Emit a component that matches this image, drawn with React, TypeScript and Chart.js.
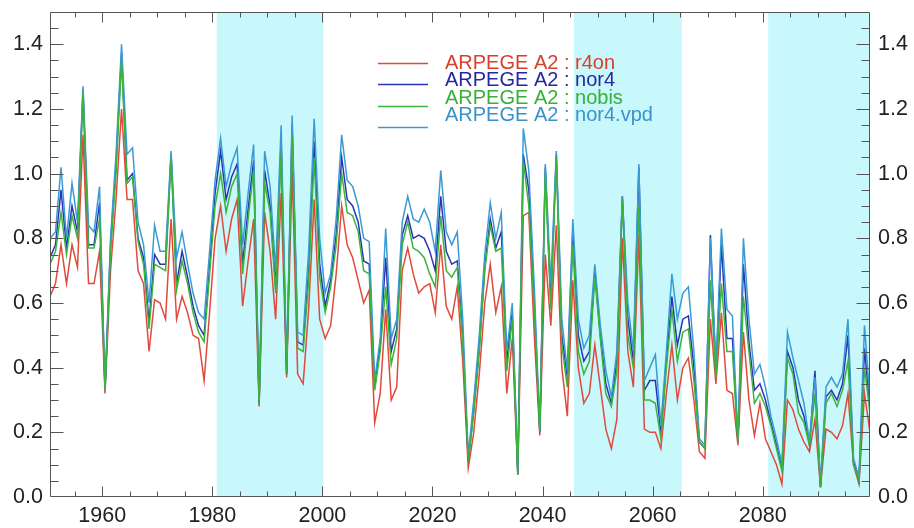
import React, { useEffect, useRef } from 'react';
import { Chart, registerables } from 'chart.js';

Chart.register(...registerables);

// ---------- data ----------
const FIRST_YEAR = 1950.5; // first sample (mid-year), one sample per year
const X_MIN = 1950.5;
const X_MAX = 2099.5;
const Y_MIN = 0;
const Y_MAX = 1.5;

const xLabelYears = [1960, 1980, 2000, 2020, 2040, 2060, 2080];
const yTickValues = [0, 0.2, 0.4, 0.6, 0.8, 1.0, 1.2, 1.4];
const shadedPeriods = [
  [1980.8, 2000.2],
  [2045.7, 2065.3],
  [2081.0, 2099.5],
];

const seriesNames = [
  'ARPEGE A2 : r4on',
  'ARPEGE A2 : nor4',
  'ARPEGE A2 : nobis',
  'ARPEGE A2 : nor4.vpd',
];

const r4on = [
  0.62, 0.66, 0.78, 0.66, 0.78, 0.71, 1.12, 0.66, 0.66, 0.76,
  0.32, 0.70, 0.92, 1.20, 0.92, 0.92, 0.70, 0.66, 0.45, 0.61,
  0.60, 0.55, 0.86, 0.55, 0.62, 0.57, 0.50, 0.49, 0.36, 0.57,
  0.80, 0.90, 0.76, 0.86, 0.92, 0.59, 0.73, 0.86, 0.28, 0.88,
  0.76, 0.55, 0.94, 0.37, 1.01, 0.38, 0.35, 0.58, 0.92, 0.55,
  0.49, 0.53, 0.69, 0.90, 0.78, 0.74, 0.67, 0.60, 0.64, 0.23,
  0.32, 0.58, 0.30, 0.34, 0.70, 0.77, 0.69, 0.63, 0.65, 0.66,
  0.57, 0.78, 0.59, 0.55, 0.65, 0.42, 0.09, 0.20, 0.38, 0.60,
  0.72, 0.57, 0.65, 0.32, 0.49, 0.07, 0.87, 0.88, 0.50, 0.19,
  0.75, 0.53, 0.84, 0.40, 0.25, 0.67, 0.40, 0.29, 0.32, 0.47,
  0.34, 0.21, 0.15, 0.24, 0.80, 0.45, 0.34, 0.81, 0.21, 0.20,
  0.20, 0.15, 0.32, 0.47, 0.30, 0.40, 0.43, 0.30, 0.14, 0.12,
  0.55, 0.35, 0.57, 0.33, 0.32, 0.16, 0.51, 0.30, 0.19, 0.29,
  0.18, 0.14, 0.10, 0.04, 0.30, 0.27, 0.21, 0.17, 0.14, 0.24,
  0.03, 0.21, 0.20, 0.18, 0.22, 0.32, 0.10, 0.04, 0.32, 0.20,
];

const nor4 = [
  0.74, 0.78, 0.95, 0.77, 0.90, 0.82, 1.26, 0.78, 0.78, 0.91,
  0.33, 0.78, 1.03, 1.37, 0.98, 1.00, 0.80, 0.74, 0.54, 0.75,
  0.72, 0.72, 1.06, 0.66, 0.76, 0.68, 0.59, 0.53, 0.50, 0.71,
  0.94, 1.07, 0.92, 0.99, 1.03, 0.72, 0.89, 1.04, 0.29, 1.01,
  0.90, 0.65, 1.10, 0.38, 1.15, 0.48, 0.47, 0.70, 1.10, 0.72,
  0.59, 0.67, 0.81, 1.05, 0.92, 0.90, 0.85, 0.73, 0.72, 0.34,
  0.47, 0.74, 0.45, 0.52, 0.81, 0.87, 0.80, 0.81, 0.80, 0.76,
  0.70, 0.93, 0.76, 0.72, 0.73, 0.50, 0.11, 0.27, 0.46, 0.71,
  0.86, 0.77, 0.82, 0.42, 0.57, 0.07, 1.06, 0.95, 0.60, 0.20,
  1.02, 0.60, 1.06, 0.50, 0.37, 0.82, 0.50, 0.42, 0.45, 0.70,
  0.50, 0.35, 0.29, 0.42, 0.93, 0.55, 0.42, 1.02, 0.33, 0.36,
  0.36, 0.20, 0.42, 0.62, 0.47, 0.55, 0.56, 0.40, 0.17, 0.15,
  0.81, 0.38, 0.78, 0.49, 0.49, 0.17, 0.72, 0.48, 0.33, 0.35,
  0.30, 0.23, 0.16, 0.09, 0.45, 0.40, 0.30, 0.25, 0.16, 0.39,
  0.03, 0.31, 0.33, 0.30, 0.35, 0.50, 0.11, 0.05, 0.46, 0.27,
];

const nobis = [
  0.72, 0.76, 0.88, 0.75, 0.87, 0.80, 1.25, 0.77, 0.77, 0.86,
  0.33, 0.76, 1.00, 1.35, 0.97, 0.99, 0.79, 0.72, 0.52, 0.72,
  0.71, 0.70, 1.05, 0.64, 0.73, 0.66, 0.57, 0.51, 0.48, 0.69,
  0.90, 1.00, 0.88, 0.96, 1.00, 0.69, 0.86, 1.01, 0.29, 0.97,
  0.88, 0.63, 1.07, 0.38, 1.12, 0.46, 0.45, 0.67, 1.05, 0.68,
  0.57, 0.65, 0.78, 1.00, 0.88, 0.87, 0.82, 0.70, 0.69, 0.33,
  0.45, 0.65, 0.41, 0.49, 0.78, 0.85, 0.77, 0.76, 0.74, 0.69,
  0.65, 0.87, 0.70, 0.68, 0.71, 0.48, 0.11, 0.26, 0.45, 0.70,
  0.84, 0.76, 0.77, 0.39, 0.55, 0.07, 1.04, 0.90, 0.58, 0.20,
  1.00, 0.58, 1.05, 0.47, 0.34, 0.78, 0.45, 0.38, 0.42, 0.68,
  0.49, 0.32, 0.28, 0.39, 0.92, 0.50, 0.40, 0.90, 0.30, 0.30,
  0.29, 0.18, 0.40, 0.58, 0.42, 0.51, 0.52, 0.36, 0.17, 0.15,
  0.67, 0.37, 0.66, 0.45, 0.45, 0.17, 0.62, 0.45, 0.29, 0.32,
  0.28, 0.22, 0.15, 0.08, 0.43, 0.38, 0.26, 0.23, 0.16, 0.32,
  0.03, 0.29, 0.32, 0.28, 0.33, 0.42, 0.10, 0.05, 0.40, 0.26,
];

const nor4vpd = [
  0.80, 0.82, 1.02, 0.80, 0.97, 0.85, 1.27, 0.84, 0.82, 0.96,
  0.33, 0.80, 1.06, 1.40, 1.06, 1.08, 0.85, 0.78, 0.60, 0.84,
  0.76, 0.76, 1.07, 0.74, 0.82, 0.72, 0.63, 0.57, 0.55, 0.76,
  0.98, 1.11, 0.96, 1.03, 1.08, 0.78, 0.94, 1.09, 0.30, 1.07,
  0.96, 0.70, 1.15, 0.40, 1.18, 0.51, 0.50, 0.76, 1.17, 0.80,
  0.63, 0.69, 0.86, 1.12, 0.98, 0.96, 0.90, 0.80, 0.79, 0.36,
  0.49, 0.83, 0.49, 0.55, 0.85, 0.93, 0.86, 0.85, 0.89, 0.85,
  0.76, 1.01, 0.82, 0.78, 0.82, 0.55, 0.13, 0.30, 0.50, 0.75,
  0.91, 0.80, 0.88, 0.45, 0.60, 0.08, 1.14, 1.01, 0.65, 0.21,
  1.03, 0.66, 1.07, 0.55, 0.39, 0.86, 0.55, 0.46, 0.50, 0.72,
  0.53, 0.39, 0.31, 0.45, 0.93, 0.60, 0.45, 1.03, 0.36, 0.40,
  0.44, 0.22, 0.45, 0.69, 0.55, 0.63, 0.65, 0.45, 0.18, 0.16,
  0.80, 0.40, 0.83, 0.58, 0.56, 0.18, 0.80, 0.55, 0.38, 0.41,
  0.34, 0.25, 0.18, 0.10, 0.51, 0.43, 0.36, 0.29, 0.17, 0.37,
  0.04, 0.34, 0.37, 0.34, 0.38, 0.55, 0.12, 0.06, 0.53, 0.30,
];

const seriesValues = [r4on, nor4, nobis, nor4vpd];
const lineColors = ['#e04a3c', '#2a35b5', '#3cb43c', '#3a9ad6'];
const textColors = ['#d8402e', '#25289e', '#38b038', '#3a92c8'];
const drawOrder = [4, 3, 1, 2]; // lower = drawn on top

// ---------- styling ----------
const FONT_FAMILY = '"Liberation Sans", Arial, Helvetica, sans-serif';
const TICK_FONT_SIZE = 21.5;
const BAND_COLOR = '#c8f8fc';
const AXIS_COLOR = '#555555';
const LABEL_COLOR = '#222222';

const bandsPlugin = {
  id: 'bands',
  beforeDatasetsDraw(chart: any) {
    const { ctx, chartArea: a, scales } = chart;
    const x = scales.x;
    ctx.save();
    ctx.fillStyle = BAND_COLOR;
    for (const [s, e] of shadedPeriods) {
      const x0 = Math.max(a.left, x.getPixelForValue(s));
      const x1 = Math.min(a.right, x.getPixelForValue(e));
      ctx.fillRect(x0, a.top, x1 - x0, a.bottom - a.top);
    }
    ctx.restore();
  },
};

const frameTicksPlugin = {
  id: 'frameTicks',
  afterDatasetsDraw(chart: any) {
    const { ctx, chartArea: a, scales } = chart;
    const x = scales.x;
    const y = scales.y;
    ctx.save();
    ctx.strokeStyle = AXIS_COLOR;
    ctx.lineWidth = 1;
    const L = Math.round(a.left) + 0.5;
    const R = Math.round(a.right) - 0.5;
    const T = Math.round(a.top) + 0.5;
    const B = Math.round(a.bottom) - 0.5;
    ctx.beginPath();
    ctx.rect(L, T, R - L, B - T);
    for (let yr = 1955; yr < X_MAX; yr += 5) {
      const px = Math.round(x.getPixelForValue(yr)) + 0.5;
      const len = yr % 20 === 0 ? 10 : 5;
      ctx.moveTo(px, B);
      ctx.lineTo(px, B - len);
      ctx.moveTo(px, T);
      ctx.lineTo(px, T + len);
    }
    for (let k = 1; k < 30; k++) {
      const py = Math.round(y.getPixelForValue(k * 0.05)) + 0.5;
      const len = k % 4 === 0 ? 13 : 8;
      ctx.moveTo(L, py);
      ctx.lineTo(L + len, py);
      ctx.moveTo(R, py);
      ctx.lineTo(R - len, py);
    }
    ctx.stroke();
    ctx.restore();
  },
};

const legendPlugin = {
  id: 'insideLegend',
  afterDatasetsDraw(chart: any) {
    const { ctx } = chart;
    const lineY = [63, 84, 106, 127];
    const textY = [63, 80, 98, 115];
    ctx.save();
    ctx.font = '20px ' + FONT_FAMILY;
    ctx.textBaseline = 'middle';
    ctx.textAlign = 'left';
    chart.data.datasets.forEach((ds: any, k: number) => {
      ctx.strokeStyle = ds.borderColor;
      ctx.lineWidth = 1.5;
      ctx.beginPath();
      ctx.moveTo(378, lineY[k] + 0.5);
      ctx.lineTo(428, lineY[k] + 0.5);
      ctx.stroke();
      ctx.fillStyle = textColors[k];
      ctx.fillText(ds.label, 445, textY[k]);
    });
    ctx.restore();
  },
};

function fixVertical(width: number) {
  return (s: any) => {
    s.width = width;
    s.paddingTop = 0;
    s.paddingBottom = 0;
  };
}

export default function App() {
  const ref = useRef<HTMLCanvasElement>(null);

  useEffect(() => {
    if (!ref.current) return;
    Chart.defaults.font.family = FONT_FAMILY;
    const datasets = seriesValues.map((vals, k) => ({
      label: seriesNames[k],
      data: vals.map((v, i) => ({ x: FIRST_YEAR + i, y: v })),
      borderColor: lineColors[k],
      backgroundColor: lineColors[k],
      borderWidth: 1.5,
      pointRadius: 0,
      tension: 0,
      fill: false,
      order: drawOrder[k],
    }));

    const yTicksCfg = {
      font: { size: TICK_FONT_SIZE, family: FONT_FAMILY },
      color: LABEL_COLOR,
      autoSkip: false,
      callback: (v: any) => Number(v).toFixed(1),
    };

    const chart = new Chart(ref.current, {
      type: 'line',
      data: { datasets },
      plugins: [bandsPlugin, frameTicksPlugin, legendPlugin],
      options: {
        responsive: false,
        animation: false,
        events: [],
        layout: { padding: { top: 12, left: 0, right: 0, bottom: 0 } },
        plugins: {
          legend: { display: false },
          tooltip: { enabled: false },
        },
        scales: {
          x: {
            type: 'linear',
            min: X_MIN,
            max: X_MAX,
            grid: { display: false, drawTicks: false },
            border: { display: false },
            afterBuildTicks: (s: any) => {
              s.ticks = xLabelYears.map((v) => ({ value: v }));
            },
            afterFit: (s: any) => {
              s.height = 31;
              s.paddingLeft = 0;
              s.paddingRight = 0;
            },
            ticks: {
              font: { size: TICK_FONT_SIZE, family: FONT_FAMILY },
              color: LABEL_COLOR,
              autoSkip: false,
              maxRotation: 0,
              padding: 6,
              callback: (v: any) => String(v),
            },
          },
          y: {
            type: 'linear',
            position: 'left',
            min: Y_MIN,
            max: Y_MAX,
            grid: { display: false, drawTicks: false },
            border: { display: false },
            afterBuildTicks: (s: any) => {
              s.ticks = yTickValues.map((v) => ({ value: v }));
            },
            afterFit: fixVertical(50),
            ticks: { ...yTicksCfg, padding: 7 },
          },
          y2: {
            type: 'linear',
            position: 'right',
            min: Y_MIN,
            max: Y_MAX,
            grid: { display: false, drawTicks: false },
            border: { display: false },
            afterBuildTicks: (s: any) => {
              s.ticks = yTickValues.map((v) => ({ value: v }));
            },
            afterFit: fixVertical(44),
            ticks: { ...yTicksCfg, padding: 8 },
          },
        },
      } as any,
    });
    return () => chart.destroy();
  }, []);

  return (
    <div
      style={{
        position: 'fixed',
        left: 0,
        top: 0,
        width: 914,
        height: 528,
        background: '#ffffff',
      }}
    >
      <canvas ref={ref} width={914} height={528} style={{ display: 'block' }} />
    </div>
  );
}
